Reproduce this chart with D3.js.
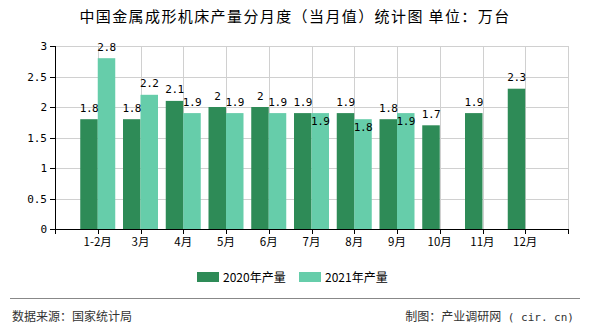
<!DOCTYPE html>
<html>
<head>
<meta charset="utf-8">
<script src="https://cdn.jsdelivr.net/npm/d3@7/dist/d3.min.js"></script>
<style>
  html, body { margin: 0; padding: 0; background: #fff; }
  svg { display: block; }
</style>
</head>
<body>
<svg id="chart" width="590" height="330"></svg>
<script>
// Monthly output of metal forming machine tools (unit: 10k sets)
const months = ["1-2月", "3月", "4月", "5月", "6月", "7月", "8月", "9月", "10月", "11月", "12月"];
const output2020 = [1.8, 1.8, 2.1, 2, 2, 1.9, 1.9, 1.8, 1.7, 1.9, 2.3];
const output2021 = [2.8, 2.2, 1.9, 1.9, 1.9, 1.9, 1.8, 1.9, null, null, null];
const seriesNames = ["2020年产量", "2021年产量"];
const yTicks = [0, 0.5, 1, 1.5, 2, 2.5, 3];

(function draw() {
  const colors = ["#2e8b57", "#66cdaa"];
  const svg = d3.select("#chart");
  const plotL = 55, plotR = 568, plotT = 46, plotB = 229;
  const monoFont = "'DejaVu Sans Mono', 'Liberation Mono', monospace";
  const cjkFont = "'Noto Sans CJK SC', 'Noto Sans', sans-serif";

  const x = d3.scalePoint().domain(months).range([plotL, plotR]).padding(1);
  const y = d3.scaleLinear().domain([0, 3]).range([plotB, plotT]);
  const inner = d3.scaleBand().domain(seriesNames).range([-17.5, 17.5]);

  // title
  svg.append("text")
    .attr("x", 295).attr("y", 22)
    .attr("text-anchor", "middle")
    .attr("font-family", cjkFont).attr("font-size", 15).attr("fill", "#000")
    .attr("letter-spacing", 1.4)
    .text("中国金属成形机床产量分月度（当月值）统计图 单位：万台");

  // grid
  const grid = svg.append("g").attr("stroke", "#d0d0d0").attr("stroke-width", 1);
  grid.selectAll("line.h").data(yTicks.slice(1)).join("line")
    .attr("x1", plotL).attr("x2", plotR)
    .attr("y1", d => Math.round(y(d)) + 0.5).attr("y2", d => Math.round(y(d)) + 0.5);
  grid.selectAll("line.v").data(months.map(m => x(m)).concat([plotR])).join("line")
    .attr("x1", d => Math.round(d) + 0.5).attr("x2", d => Math.round(d) + 0.5)
    .attr("y1", plotT).attr("y2", plotB);

  // bars
  const series = [output2020, output2021];
  const barLayer = svg.append("g");
  series.forEach((vals, si) => {
    barLayer.selectAll(null)
      .data(months.map((m, i) => ({ m, v: vals[i] })).filter(d => d.v != null))
      .join("rect")
      .attr("x", d => x(d.m) + inner(seriesNames[si]))
      .attr("width", inner.bandwidth())
      .attr("y", d => y(d.v))
      .attr("height", d => y(0) - y(d.v))
      .attr("fill", colors[si]);
  });

  // value labels; the second label in a group drops inside its bar when it would collide
  const labelLayer = svg.append("g")
    .attr("font-family", monoFont).attr("font-size", 11).attr("fill", "#000")
    .attr("letter-spacing", -0.4)
    .attr("text-anchor", "middle");
  const labelH = 11;
  months.forEach((m, i) => {
    let prevBox = null;
    series.forEach((vals, si) => {
      const v = vals[i];
      if (v == null) return;
      const cx = x(m) + inner(seriesNames[si]) + inner.bandwidth() / 2;
      const txt = String(v);
      const w = txt.length * 6.2;
      let baseY = y(v) - 7.5;
      let box = { x0: cx - w / 2, x1: cx + w / 2, y0: baseY - labelH + 2, y1: baseY };
      if (prevBox && box.x0 < prevBox.x1 && box.x1 > prevBox.x0 &&
          box.y0 < prevBox.y1 && box.y1 > prevBox.y0) {
        baseY = y(v) + 11.5;
        box = { x0: box.x0, x1: box.x1, y0: baseY - labelH + 2, y1: baseY };
      }
      labelLayer.append("text").attr("x", cx).attr("y", baseY).text(txt);
      prevBox = box;
    });
  });

  // axes
  const axisG = svg.append("g");
  axisG.append("line").attr("x1", plotL + 0.5).attr("x2", plotL + 0.5).attr("y1", plotT).attr("y2", plotB + 0.5)
    .attr("stroke", "#000");
  axisG.append("line").attr("x1", plotL - 5).attr("x2", plotR + 0.5).attr("y1", plotB + 0.5).attr("y2", plotB + 0.5)
    .attr("stroke", "#000");
  axisG.selectAll("line.yt").data(yTicks).join("line")
    .attr("x1", plotL - 5).attr("x2", plotL)
    .attr("y1", d => Math.round(y(d)) + 0.5).attr("y2", d => Math.round(y(d)) + 0.5)
    .attr("stroke", "#000");
  axisG.selectAll("text.yl").data(yTicks).join("text")
    .attr("x", plotL - 8).attr("y", d => y(d) + 4)
    .attr("text-anchor", "end")
    .attr("font-family", monoFont).attr("font-size", 11).attr("fill", "#000")
    .text(d => d);
  axisG.selectAll("line.xt").data([plotL].concat(months.map(m => x(m)), [plotR])).join("line")
    .attr("x1", d => Math.round(d) + 0.5).attr("x2", d => Math.round(d) + 0.5)
    .attr("y1", plotB).attr("y2", plotB + 5)
    .attr("stroke", "#000");
  axisG.selectAll("text.xl").data(months).join("text")
    .attr("x", d => x(d)).attr("y", plotB + 17)
    .attr("text-anchor", "middle")
    .attr("font-family", cjkFont).attr("font-size", 11.5).attr("fill", "#000")
    .text(d => d);

  // legend
  const legend = svg.append("g").attr("font-family", cjkFont).attr("font-size", 12);
  const legendX = [197, 299];
  seriesNames.forEach((name, i) => {
    legend.append("rect").attr("x", legendX[i]).attr("y", 272).attr("width", 22).attr("height", 10)
      .attr("fill", colors[i]);
    legend.append("text").attr("x", legendX[i] + 26).attr("y", 281.5).attr("fill", "#000").text(name);
  });

  // footer
  svg.append("line").attr("x1", 10).attr("x2", 580).attr("y1", 298.5).attr("y2", 298.5)
    .attr("stroke", "#888").attr("stroke-width", 1);
  svg.append("text").attr("x", 12).attr("y", 321)
    .attr("font-family", cjkFont).attr("font-size", 12).attr("fill", "#333")
    .text("数据来源：国家统计局");
  const credit = svg.append("text").attr("x", 574).attr("y", 321).attr("text-anchor", "end")
    .attr("font-family", cjkFont).attr("font-size", 12).attr("fill", "#333")
    .style("white-space", "pre");
  credit.append("tspan").text("制图：产业调研网");
  credit.append("tspan").attr("font-family", monoFont).attr("font-size", 11)
    .style("white-space", "pre").text(" ( cir. cn)");
})();
</script>
</body>
</html>
